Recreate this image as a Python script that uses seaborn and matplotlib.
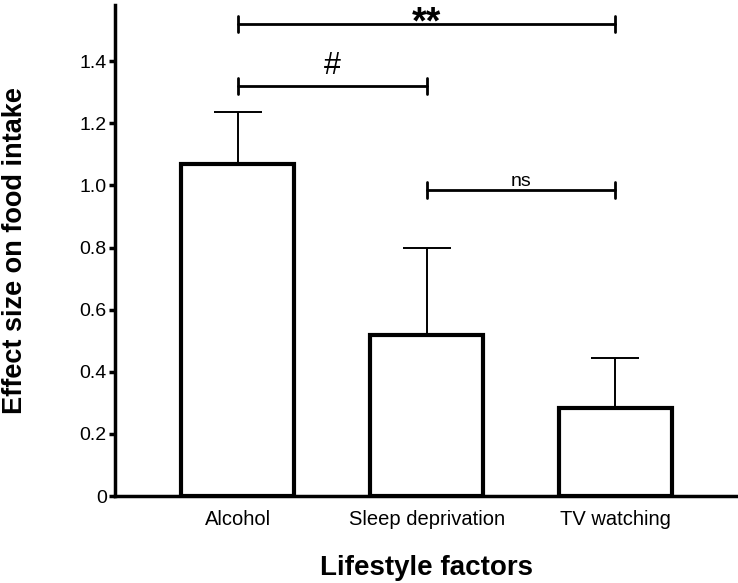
import matplotlib
matplotlib.use("Agg")
import matplotlib.pyplot as plt
import seaborn as sns
import pandas as pd

factors = ["Alcohol", "Sleep deprivation", "TV watching"]
effect = [1.07, 0.52, 0.283]
err_upper = [0.165, 0.28, 0.162]

# significance brackets: (left index, right index, height, label)
sig_left = [0, 0, 1]
sig_right = [2, 1, 2]
sig_height = [1.52, 1.32, 0.985]
sig_label = ["**", "#", "ns"]
sig_size = [27, 22, 14]
sig_offset = [-0.03, 0.038, 0.013]

yticks = [0, 0.2, 0.4, 0.6, 0.8, 1.0, 1.2, 1.4]
ytick_labels = ["0", "0.2", "0.4", "0.6", "0.8", "1.0", "1.2", "1.4"]

sns.set_style("ticks", {"axes.edgecolor": "black", "text.color": "black",
                        "xtick.color": "black", "ytick.color": "black",
                        "axes.labelcolor": "black"})
plt.rcParams["font.family"] = ["Liberation Sans", "DejaVu Sans"]

df = pd.DataFrame({"factor": factors, "effect": effect})

fig = plt.figure(figsize=(7.38, 5.83), dpi=100)
ax = fig.add_axes([0.156, 0.149, 0.844, 0.842])

sns.barplot(data=df, x="factor", y="effect", color="white", edgecolor="black",
            linewidth=3, width=0.6, errorbar=None, ax=ax, zorder=3)

ax.errorbar(range(len(factors)), effect, yerr=[[0] * len(factors), err_upper],
            fmt="none", ecolor="black", elinewidth=1.4, capsize=17,
            capthick=1.4, zorder=2)

for l, r, h, lab, fs, off in zip(sig_left, sig_right, sig_height, sig_label,
                                 sig_size, sig_offset):
    ax.plot([l, r], [h, h], color="black", lw=2, zorder=4)
    ax.plot([l, l], [h - 0.025, h + 0.025], color="black", lw=2, zorder=4)
    ax.plot([r, r], [h - 0.025, h + 0.025], color="black", lw=2, zorder=4)
    wt = "bold" if lab == "**" else "normal"
    ax.text((l + r) / 2, h + off, lab, ha="center", va="baseline",
            fontsize=fs, fontweight=wt, clip_on=False)

ax.set_xlim(-0.65, 2.65)
ax.set_ylim(0, 1.58)
ax.set_yticks(yticks)
ax.set_yticklabels(ytick_labels)
ax.tick_params(axis="y", length=4, width=2.5, labelsize=14, pad=2)
ax.tick_params(axis="x", length=0, labelsize=14.5, pad=10)

for side in ["top", "right"]:
    ax.spines[side].set_visible(False)
for side in ["left", "bottom"]:
    ax.spines[side].set_linewidth(2.5)

ax.set_xlabel("Lifestyle factors", fontsize=20, fontweight="bold")
ax.set_ylabel("Effect size on food intake", fontsize=19.5, fontweight="bold")
ax.xaxis.set_label_coords(0.5, -0.12)
ax.yaxis.set_label_coords(-0.14, 0.5)

fig.savefig("out.png", dpi=100)
